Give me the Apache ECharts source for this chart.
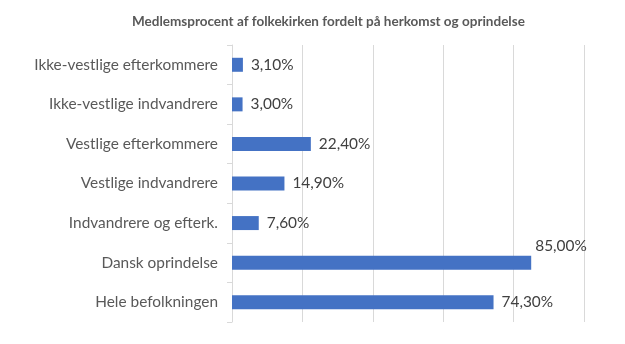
<!DOCTYPE html>
<html><head><meta charset="utf-8">
<script src="https://cdn.jsdelivr.net/npm/echarts@6/dist/echarts.min.js"></script>
<style>html,body{margin:0;padding:0;background:#fff}#c{width:625px;height:344px}</style>
</head><body><div id="c"></div>
<script>
const titleText = 'Medlemsprocent af folkekirken fordelt på herkomst og oprindelse';
const categories = ['Hele befolkningen','Dansk oprindelse','Indvandrere og efterk.','Vestlige indvandrere','Vestlige efterkommere','Ikke-vestlige indvandrere','Ikke-vestlige efterkommere'];
const values = [74.3, 85.0, 7.6, 14.9, 22.4, 3.0, 3.1];
const raisedLabel = 'Dansk oprindelse';

const chart = echarts.init(document.getElementById('c'), null, {renderer:'canvas'});
const fmt = v => v.toFixed(2).replace('.', ',') + '%';
chart.setOption({
  animation:false,
  title:{text:titleText,left:127,top:10,textStyle:{fontFamily:'Lato',fontSize:13.5,fontWeight:'bold',color:'#595959'}},
  grid:{left:232,right:41,top:45,bottom:22},
  xAxis:{type:'value',min:0,max:100,interval:20,axisLabel:{show:false},axisLine:{show:false},axisTick:{show:false},
    splitLine:{lineStyle:{color:'#d9d9d9',width:1}}},
  yAxis:{type:'category',data:categories,
    axisLine:{lineStyle:{color:'#d9d9d9'}},
    axisTick:{show:true,length:5,lineStyle:{color:'#d9d9d9'}},
    axisLabel:{margin:14,fontFamily:'Lato',fontSize:15.4,color:'#595959'}},
  series:[{type:'bar',barWidth:14,itemStyle:{color:'#4472C4'},
    data:values.map((v,i)=>({value:v,label: categories[i]===raisedLabel ? {offset:[-4,-17]} : {}})),
    label:{show:true,position:'right',distance:8,fontFamily:'Lato',fontSize:15.4,color:'#404040',formatter:p=>fmt(p.value)}}]
});
</script></body></html>
